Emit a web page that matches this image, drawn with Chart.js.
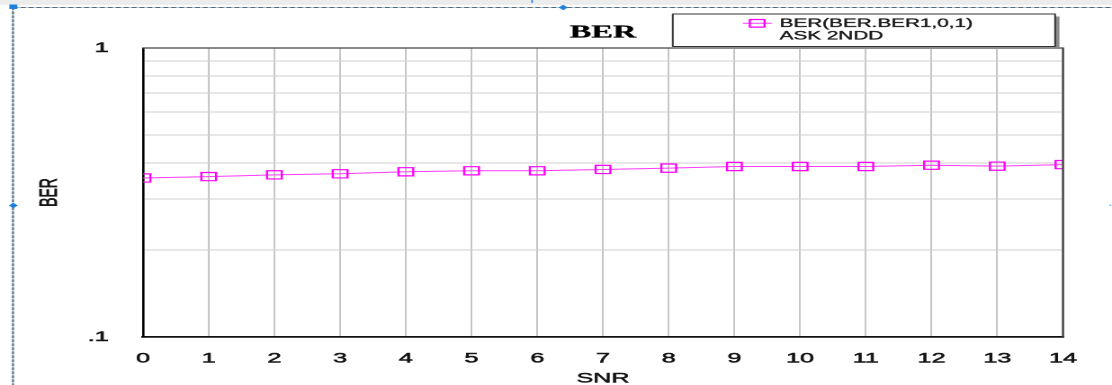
<!DOCTYPE html>
<html>
<head>
<meta charset="utf-8">
<script src="https://cdn.jsdelivr.net/npm/chart.js@4.4.1/dist/chart.umd.min.js"></script>
<style>
  html, body { margin: 0; padding: 0; background: #fff; overflow: hidden; }
  /* the plot is laid out on a narrow canvas and widened horizontally */
  #wrap { position: absolute; left: 0; top: 0; width: 618px; height: 385px;
          transform: scaleX(1.79935); transform-origin: 0 0; }
  canvas { display: block; }
</style>
</head>
<body>
<div id="wrap"><canvas id="c" width="618" height="385" style="width:618px;height:385px"></canvas></div>
<script>
// SNR sweep and measured bit error rate
const snr = [0, 1, 2, 3, 4, 5, 6, 7, 8, 9, 10, 11, 12, 13, 14];
const ber = [0.355, 0.359, 0.364, 0.367, 0.373, 0.376, 0.376, 0.380, 0.384, 0.389, 0.389, 0.389, 0.393, 0.390, 0.395];

// axis ticks
const xTickValues = [0, 1, 2, 3, 4, 5, 6, 7, 8, 9, 10, 11, 12, 13, 14];
const xTickLabels = ['0', '1', '2', '3', '4', '5', '6', '7', '8', '9', '10', '11', '12', '13', '14'];
const yTickValues = [0.1, 0.2, 0.3, 0.4, 0.5, 0.6, 0.7, 0.8, 0.9, 1];
const yTickLabels = ['.1', '', '', '', '', '', '', '', '', '1'];

// axis titles, legend entry (two lines) and chart title
const xTitle = 'SNR';
const yTitle = 'BER';
const legendLines = ['BER(BER.BER1,0,1)', 'ASK 2NDD'];
const chartTitle = 'BER';

const SANS = '"Liberation Sans", Arial, sans-serif';
const SERIF = '"Liberation Serif", "Times New Roman", serif';
const MAGENTA = '#ff00ff';
const INK = '#141414';

// filled text with a thin outline of the same colour, for a heavier look
function heavyText(ctx, text, x, y, w) {
  ctx.lineWidth = w;
  ctx.strokeStyle = ctx.fillStyle;
  ctx.lineJoin = 'round';
  ctx.strokeText(text, x, y);
  ctx.fillText(text, x, y);
}

// page frame, plot border, axis titles, legend box and title
const decorations = {
  id: 'decorations',
  beforeDraw(chart) {
    const ctx = chart.ctx, W = chart.width, H = chart.height;
    ctx.save();
    ctx.fillStyle = '#fff';
    ctx.fillRect(0, 0, W, H);
    ctx.fillStyle = '#ececec';
    ctx.fillRect(0, 0, W, 5);

    // dashed selection frame (top and left)
    ctx.lineWidth = 1;
    ctx.strokeStyle = '#9ccbf0';
    ctx.beginPath();
    ctx.moveTo(7.2, 7.5); ctx.lineTo(W, 7.5);
    ctx.moveTo(7.2, 7.5); ctx.lineTo(7.2, H);
    ctx.stroke();
    ctx.strokeStyle = '#666';
    ctx.setLineDash([2.6, 1.8]);
    ctx.beginPath();
    ctx.moveTo(7.2, 7.5); ctx.lineTo(W, 7.5);
    ctx.stroke();
    ctx.setLineDash([2.5, 1.5]);
    ctx.beginPath();
    ctx.moveTo(7.2, 7.5); ctx.lineTo(7.2, H);
    ctx.stroke();
    ctx.setLineDash([]);

    // frame handles
    ctx.fillStyle = '#1c80de';
    ctx.fillRect(5.2, 4.5, 4.4, 4.5);
    const diamond = (cx, cy, hw, hh) => {
      ctx.beginPath();
      ctx.moveTo(cx - hw, cy); ctx.lineTo(cx, cy - hh);
      ctx.lineTo(cx + hw, cy); ctx.lineTo(cx, cy + hh);
      ctx.closePath(); ctx.fill();
    };
    diamond(7.4, 205.5, 2.5, 2.8);
    diamond(313, 7.5, 2.5, 2.8);
    ctx.fillRect(295.3, 0, 0.8, 3);
    ctx.fillStyle = '#7fb6e6';
    ctx.fillRect(616.6, 204.5, 1, 1.5);
    ctx.restore();
  },
  afterDraw(chart) {
    const ctx = chart.ctx, ca = chart.chartArea;
    ctx.save();

    // top and right edges of the plot box
    ctx.strokeStyle = '#444';
    ctx.lineWidth = 1.2;
    ctx.beginPath();
    ctx.moveTo(ca.left, ca.top); ctx.lineTo(ca.right, ca.top); ctx.lineTo(ca.right, ca.bottom);
    ctx.stroke();

    // axis titles
    ctx.fillStyle = INK;
    ctx.font = '14px ' + SANS;
    ctx.textAlign = 'center';
    ctx.textBaseline = 'middle';
    heavyText(ctx, xTitle, (ca.left + ca.right) / 2, 378.5, 0.45);
    ctx.save();
    ctx.translate(27.5, (ca.top + ca.bottom) / 2);
    ctx.rotate(-Math.PI / 2);
    heavyText(ctx, yTitle, 0, 0, 0.45);
    ctx.restore();

    // title
    ctx.fillStyle = '#000';
    ctx.font = 'bold 18px ' + SERIF;
    ctx.textAlign = 'center';
    ctx.textBaseline = 'middle';
    heavyText(ctx, chartTitle, (ca.left + ca.right) / 2, 33, 0.3);

    // legend box with drop shadow
    const x0 = 373.9, x1 = 586.4, y0 = 14, y1 = 46.5;
    ctx.fillStyle = '#8c8c8c';
    ctx.fillRect(x0 + 2.4, y0 + 2.5, x1 - x0, y1 - y0);
    ctx.fillStyle = '#fff';
    ctx.fillRect(x0, y0, x1 - x0, y1 - y0);
    ctx.strokeStyle = '#333';
    ctx.lineWidth = 1;
    ctx.strokeRect(x0, y0, x1 - x0, y1 - y0);

    // legend sample: line with hollow square marker
    const ds = chart.data.datasets[0];
    ctx.strokeStyle = ds.borderColor;
    ctx.lineWidth = 1;
    ctx.beginPath();
    ctx.moveTo(412.8, 23.3); ctx.lineTo(428.9, 23.3);
    ctx.stroke();
    ctx.strokeStyle = ds.pointBorderColor;
    ctx.lineWidth = ds.pointBorderWidth;
    ctx.strokeRect(420.8 - 4.1, 23.3 - 3.8, 8.2, 7.6);

    ctx.fillStyle = '#1b1b1b';
    ctx.font = '11.5px ' + SANS;
    ctx.textAlign = 'left';
    ctx.textBaseline = 'middle';
    heavyText(ctx, legendLines[0], 433.3, 24, 0.35);
    heavyText(ctx, legendLines[1], 433.3, 36.5, 0.35);
    ctx.restore();
  }
};

new Chart(document.getElementById('c'), {
  type: 'line',
  data: {
    datasets: [{
      label: legendLines.join(' '),
      data: snr.map((s, i) => ({ x: s, y: ber[i] })),
      borderColor: '#ff3aff',
      borderWidth: 1,
      pointStyle: 'rect',
      pointRadius: 5.8,
      pointBorderColor: MAGENTA,
      pointBackgroundColor: 'rgba(0,0,0,0)',
      pointBorderWidth: 1.2,
      tension: 0,
      clip: 0
    }]
  },
  options: {
    responsive: false,
    devicePixelRatio: 2,
    animation: false,
    events: [],
    layout: { padding: { left: 0, right: 27.25, top: 48, bottom: 0 } },
    plugins: {
      legend: { display: false },
      tooltip: { enabled: false },
      title: { display: false }
    },
    scales: {
      x: {
        type: 'linear',
        min: 0,
        max: 14,
        afterBuildTicks: s => { s.ticks = xTickValues.map(v => ({ value: v })); },
        afterFit: s => { s.height = 48; },
        grid: { color: '#c6c6c6', lineWidth: 1, drawTicks: false },
        border: { display: true, color: '#111', width: 1.8 },
        ticks: {
          autoSkip: false,
          maxRotation: 0,
          padding: 13,
          color: INK,
          textStrokeColor: INK,
          textStrokeWidth: 0.5,
          font: { family: SANS, size: 14 },
          callback: (v, i) => xTickLabels[i]
        },
        title: { display: false }
      },
      y: {
        type: 'logarithmic',
        min: 0.1,
        max: 1,
        afterBuildTicks: s => { s.ticks = yTickValues.map(v => ({ value: v })); },
        afterFit: s => { s.width = 79.47; },
        grid: { color: '#d0d0d0', lineWidth: 1, drawTicks: false },
        border: { display: true, color: '#000', width: 1.3 },
        ticks: {
          autoSkip: false,
          padding: 19,
          color: INK,
          textStrokeColor: INK,
          textStrokeWidth: 0.6,
          font: { family: SANS, size: 14 },
          callback: (v, i) => yTickLabels[i]
        },
        title: { display: false }
      }
    }
  },
  plugins: [decorations]
});
</script>
</body>
</html>
